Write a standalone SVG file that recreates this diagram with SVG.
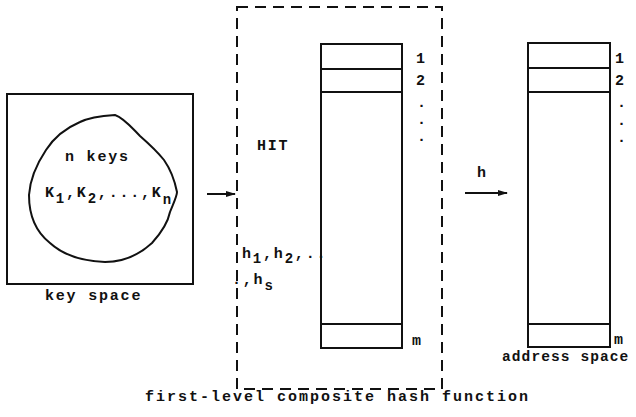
<svg xmlns="http://www.w3.org/2000/svg" width="636" height="417" viewBox="0 0 636 417">
<defs>
<style>
text{font-family:"Liberation Mono","DejaVu Sans Mono",monospace;font-size:15px;font-weight:bold;fill:#111;letter-spacing:1.8px}
text.wide{letter-spacing:2px}
text.tight{letter-spacing:1.1px;font-size:14.5px}
.sub{font-size:14px}
.box{fill:none;stroke:#111;stroke-width:2}
.cell{fill:none;stroke:#111;stroke-width:2}
.dash{fill:none;stroke:#111;stroke-width:2;stroke-dasharray:11 7}
.edge{stroke:#111;stroke-width:2;fill:none}
</style>
<marker id="ah" markerWidth="10" markerHeight="8" refX="9" refY="4" orient="auto" markerUnits="userSpaceOnUse">
<path d="M0,1 L10,4 L0,7 Z" fill="#111"/>
</marker>
</defs>
<rect width="636" height="417" fill="#fff"/>

<g id="key-space">
<rect class="box" x="7" y="94" width="186" height="190"/>
<path class="box" stroke-width="2.4" d="M115,115 C100,116 88,118 80,122 C66,128 55,136 46,150 C36,165 30,180 29,195 C29,215 36,232 50,243 C62,254 80,261 105,262 C125,262 140,254 152,243 C162,232 168,222 170,212 C174,202 177,196 177,192 C175,182 171,170 164,160 C156,150 148,143 140,136 C132,128 124,118 115,115 Z"/>
<text x="65" y="161">n keys</text>
<text x="45" y="197">K<tspan class="sub" dy="6">1</tspan><tspan dy="-6">,K</tspan><tspan class="sub" dy="6">2</tspan><tspan dy="-6">,...,K</tspan><tspan class="sub" dy="7">n</tspan></text>
<text x="45" y="300">key space</text>
</g>

<g id="hash-function">
<rect class="dash" x="237" y="7" width="205" height="382"/>
<text class="wide" x="145" y="401">first-level composite hash function</text>
<text x="257" y="150">HIT</text>
<text x="242" y="258">h<tspan class="sub" dy="5">1</tspan><tspan dy="-5">,h</tspan><tspan class="sub" dy="5">2</tspan><tspan dy="-5">,..</tspan></text>
<text x="232" y="284">.,h<tspan class="sub" dy="6">s</tspan></text>
</g>

<g id="hit-table">
<rect class="cell" x="321" y="44" width="81" height="304"/>
<line class="cell" x1="321" y1="69" x2="402" y2="69"/>
<line class="cell" x1="321" y1="92" x2="402" y2="92"/>
<line class="cell" x1="321" y1="324" x2="402" y2="324"/>
<text x="416" y="63">1</text>
<text x="416" y="85">2</text>
<text x="417" y="107">.</text>
<text x="417" y="124">.</text>
<text x="417" y="141">.</text>
<text x="412" y="345">m</text>
</g>

<g id="address-space">
<rect class="cell" x="528" y="43" width="82" height="304"/>
<line class="cell" x1="528" y1="68" x2="610" y2="68"/>
<line class="cell" x1="528" y1="92" x2="610" y2="92"/>
<line class="cell" x1="528" y1="324" x2="610" y2="324"/>
<text x="615" y="63">1</text>
<text x="615" y="85">2</text>
<text x="617" y="107">.</text>
<text x="617" y="125">.</text>
<text x="617" y="142">.</text>
<text x="614" y="344">m</text>
<text class="tight" x="502" y="361">address space</text>
</g>

<g id="connectors">
<line class="edge" x1="207" y1="194" x2="235" y2="194" marker-end="url(#ah)"/>
<line class="edge" x1="465" y1="193" x2="507" y2="193" marker-end="url(#ah)"/>
<text x="477" y="177">h</text>
</g>
</svg>
